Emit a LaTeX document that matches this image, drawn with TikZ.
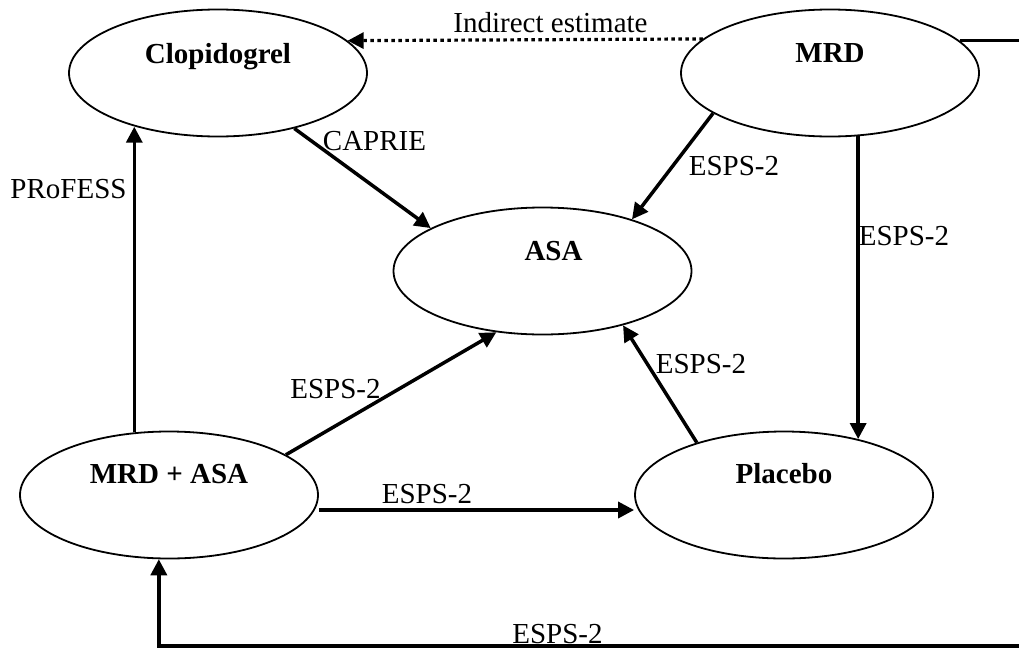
\documentclass[tikz,border=0pt]{standalone}
\usepackage{fontspec}
\setmainfont{Liberation Serif}
\usetikzlibrary{shapes.geometric,arrows.meta}
\begin{document}
\begin{tikzpicture}[x=1pt,y=-1pt,
  arm/.style={ellipse,draw,line width=1.8pt,minimum width=298pt,minimum height=127pt,inner sep=0pt},
  armname/.style={font=\fontsize{29}{34}\selectfont\bfseries,anchor=base,inner sep=0pt},
  lbl/.style={font=\fontsize{29}{34}\selectfont,anchor=base,inner sep=0pt},
  link/.style={line width=3.5pt,-{Triangle[length=16pt,width=16pt]}},
  indirect/.style={line width=3.2pt,dash pattern=on 3.5pt off 3.5pt,-{Triangle[length=16pt,width=16pt]}}
]
\fill[white] (0,0) rectangle (1019,648);
\clip (0,0) rectangle (1019,648);

% treatment arms
\node[arm] (clop)   at (218,73)    {};
\node[arm] (mrd)    at (830,73)    {};
\node[arm] (asa)    at (542.5,271) {};
\node[arm] (mrdasa) at (169,495)   {};
\node[arm] (plac)   at (784,495)   {};

\node[armname] (clop-t)   at ([yshift=10pt]clop.center)              {Clopidogrel};
\node[armname] (mrd-t)    at ([yshift=11pt]mrd.center)               {MRD};
\node[armname] (asa-t)    at ([xshift=11pt,yshift=11pt]asa.center)   {ASA};
\node[armname] (mrdasa-t) at ([yshift=12pt]mrdasa.center)            {MRD + ASA};
\node[armname] (plac-t)   at ([yshift=12pt]plac.center)              {Placebo};

% trials linking the arms
\coordinate (rim) at (1040,646);
\draw[indirect] (mrd.165.1) -- (clop.14.9);
\draw[link] (clop.-36.6) -- (asa.159);
\draw[link] (mrd.199.5) -- (asa.30);
\draw[link] (mrd.-66.4) -- (mrd.-66.4 |- plac.37.4);
\draw[link] (plac.149.4) -- (asa.-34);
\draw[link] (mrdasa.19.4) -- (asa.233.4);
\draw[link] ([yshift=-15pt]mrdasa.east) -- ([yshift=-15pt]plac.west);
\draw[link] (mrdasa.119.7) -- (mrdasa.119.7 |- clop.-147.8);
\draw[link] (mrd.14.9) -| (rim) -| (mrdasa.-99.6);

% trial names
\node[lbl] (l-ind) at (550.5,32)  {Indirect estimate};
\node[lbl] (l-cap) at (374.5,150) {CAPRIE};
\node[lbl] (l-pro) at (68.5,198)  {PRoFESS};
\node[lbl] (l-ma)  at (734,175)   {ESPS-2};
\node[lbl] (l-mp)  at (904,245)   {ESPS-2};
\node[lbl] (l-xa)  at (335.5,398) {ESPS-2};
\node[lbl] (l-xp)  at (427,503)   {ESPS-2};
\node[lbl] (l-pa)  at (701,373)   {ESPS-2};
\node[lbl] (l-mx)  at (557.5,643) {ESPS-2};
\end{tikzpicture}
\end{document}
